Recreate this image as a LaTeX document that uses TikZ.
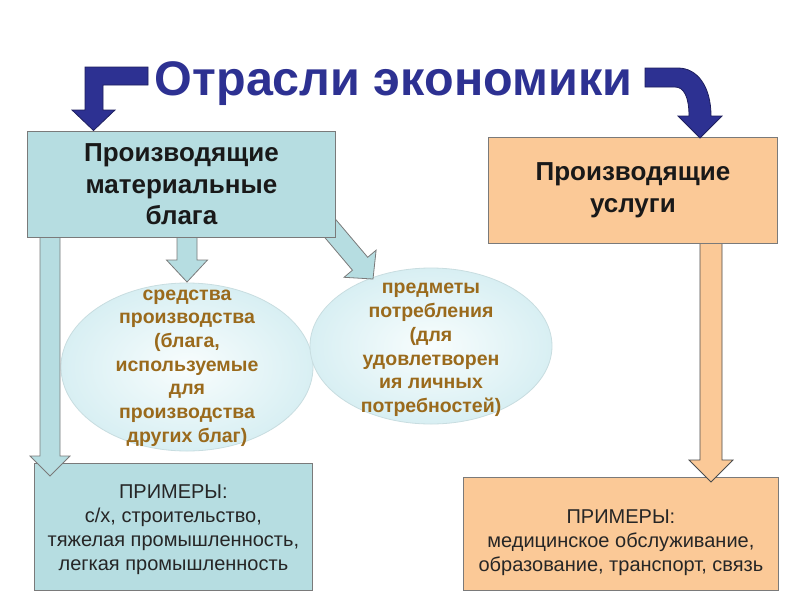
\documentclass[tikz,border=0pt]{standalone}
\usepackage{fontspec}
\setmainfont{Liberation Sans}
\usetikzlibrary{shapes.geometric,calc}
\definecolor{tealfill}{HTML}{B6DDE1}
\definecolor{peachfill}{HTML}{FBC997}
\definecolor{navy}{HTML}{2D3192}
\definecolor{navyline}{HTML}{1E1F5E}
\definecolor{browntext}{HTML}{9A6A1C}
\definecolor{boxline}{HTML}{7A7A7A}
\definecolor{ellin}{HTML}{F8FDFD}
\definecolor{ellout}{HTML}{D8EFF3}
\definecolor{ellline}{HTML}{C8DDE0}
\newcommand\blockarr[6]{%
  % #1 style, #2 start, #3 end, #4 shaft half width, #5 head half width, #6 head length
  \draw[#1] ($(#2)!#4!90:(#3)$) -- ($($(#3)!#6!(#2)$)!#4!-90:(#2)$)
    -- ($($(#3)!#6!(#2)$)!#5!-90:(#2)$) -- (#3)
    -- ($($(#3)!#6!(#2)$)!#5!90:(#2)$) -- ($($(#3)!#6!(#2)$)!#4!90:(#2)$)
    -- ($(#2)!#4!-90:(#3)$) -- cycle;}
\begin{document}
\begin{tikzpicture}[x=1pt,y=-1pt,
  boxbase/.style={draw=boxline, line width=0.8pt, inner sep=0pt, anchor=north west, align=center},
  matbox/.style={boxbase, fill=tealfill},
  srvbox/.style={boxbase, fill=peachfill},
  headtext/.style={font=\fontsize{26}{31.5}\selectfont\bfseries, text=black!90},
  extext/.style={font=\fontsize{20}{24}\selectfont, text=black!85, align=center},
  ellshape/.style={ellipse, draw=ellline, line width=0.8pt, inner sep=0pt, shading=radial, inner color=ellin, outer color=ellout},
  elltext/.style={font=\fontsize{19.5}{23.7}\selectfont\bfseries, text=browntext, align=center},
  tealarrow/.style={fill=tealfill, draw=boxline, line width=0.8pt, line join=miter},
  peacharrow/.style={fill=peachfill, draw=black!70, line width=0.8pt, line join=miter},
  navyarrow/.style={fill=navy, draw=navyline, line width=0.8pt, line join=miter}
]
\useasboundingbox (0,0) rectangle (800,600);
\fill[white] (0,0) rectangle (800,600);

% bottom boxes
\node[matbox, minimum width=278, minimum height=127] (ex1) at (34,463) {};
\node[extext] (ex1t) at ($(ex1.center)+(0,2.5)$) {ПРИМЕРЫ:\\с/х, строительство,\\тяжелая промышленность,\\легкая промышленность};
\node[srvbox, minimum width=315, minimum height=113] (ex2) at (463,477) {};
\node[extext] (ex2t) at ($(ex2.center)+(0,9)$) {ПРИМЕРЫ:\\медицинское обслуживание,\\образование, транспорт, связь};

% ellipses
\node[ellshape, minimum width=252, minimum height=168] (ell1) at (187,367) {};
\node[ellshape, minimum width=242, minimum height=156] (ell2) at (431,346) {};
\node[elltext] (ell1t) at (187,368) {средства\\производства\\(блага,\\используемые\\для\\производства\\других благ)};
\node[elltext] (ell2t) at (431,350) {предметы\\потребления\\(для\\удовлетворен\\ия личных\\потребностей)};

% anchor points of the top boxes
\coordinate (matnw) at (27,131);
\coordinate (srvnw) at (488,137);

% block arrows under the top boxes
\coordinate (a1s) at (50,230);
\coordinate (a1e) at (50,476);
\blockarr{tealarrow}{a1s}{a1e}{10pt}{20pt}{20pt}
\coordinate (a2s) at (187,230);
\coordinate (a2e) at (187,282);
\blockarr{tealarrow}{a2s}{a2e}{10pt}{20.5pt}{22pt}
\coordinate (a3s) at (318,214);
\coordinate (a3e) at (373,279);
\blockarr{tealarrow}{a3s}{a3e}{10pt}{21pt}{20pt}
\coordinate (a4s) at (711,236);
\coordinate (a4e) at (711,482);
\blockarr{peacharrow}{a4s}{a4e}{11pt}{22pt}{22pt}

% top boxes
\node[matbox, minimum width=308, minimum height=106, headtext] (mat) at (matnw) {Производящие\\материальные\\блага};
\node[srvbox, minimum width=289, minimum height=106, headtext] (srv) at (srvnw) {\raisebox{-5pt}{\begin{tabular}{@{}c@{}}Производящие\\услуги\end{tabular}}};

% title
\node[anchor=base, text=navy, inner sep=0pt] (title) at (393.5,95) {\fontsize{48.5}{48}\selectfont\bfseries Отрасли экономики};

% navy bent arrows
\coordinate (ltip) at (93.5,130.5);
\coordinate (rtip) at (700,138);
\draw[navyarrow] (148,67) -- (85,67) -- (85,110) -- (72,110) -- (ltip) -- (115,110) -- (103,110) -- (103,85) -- (148,85) -- cycle;
\draw[navyarrow] (645,68) -- (678,68) .. controls (697,68) and (711,86) .. (711,116)
  -- (722,116) -- (rtip) -- (678,116) -- (689,116)
  .. controls (689,97) and (684,87) .. (675,87) -- (645,87) -- cycle;
\end{tikzpicture}
\end{document}
